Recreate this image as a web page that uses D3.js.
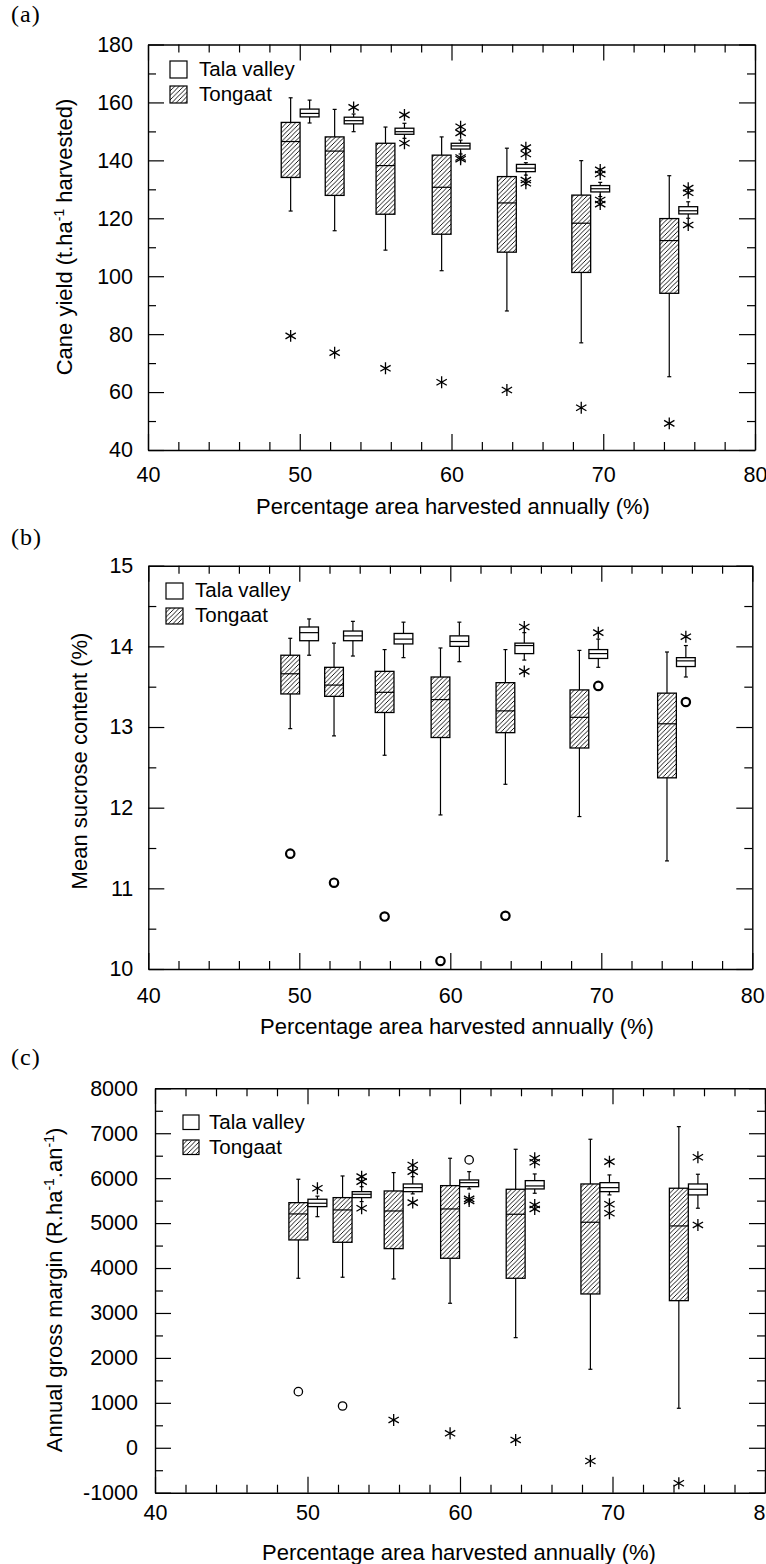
<!DOCTYPE html>
<html>
<head>
<meta charset="utf-8">
<script src="https://cdn.jsdelivr.net/npm/d3@7"></script>
<style>
  body { margin: 0; background: #fff; }
  svg text { font-family: "Liberation Sans", Arial, sans-serif; fill: #000; }
  .tick text { font-size: 21.5px; }
  svg text.panel-label { font-family: "Liberation Serif", "Times New Roman", serif; font-size: 24px; }
  .title { font-size: 22px; }
  .legend text { font-size: 20.5px; }
</style>
</head>
<body>
<svg id="chart" width="766" height="1564"></svg>
<script>
// % area harvested annually for each scenario (Tongaat box position, Tala sits just right of it)
const pctHarvested = [49.4, 52.3, 55.65, 59.35, 63.65, 68.55, 74.35];
const seriesNames = ["Tala valley", "Tongaat"];
const xTicks = [40, 50, 60, 70, 80];

// box stats per scenario: [lower whisker, q1, median, q3, upper whisker]
// outliers per scenario: [value, mark]  mark "*" = extreme, "o" = outlier

// (a) cane yield, t/ha harvested
const yieldTongaat = [
  [122.5, 134.1, 146.5, 153.1, 161.6],
  [115.7, 127.9, 143.2, 148.1, 157.6],
  [109.0, 121.4, 138.2, 145.9, 151.5],
  [101.9, 114.5, 130.7, 141.8, 148.1],
  [88.0, 108.3, 125.3, 134.4, 144.2],
  [77.0, 101.3, 118.3, 128.0, 139.9],
  [65.3, 94.1, 112.3, 119.9, 134.7]
];
const yieldTongaatOut = [
  [[79.4, "*"]], [[73.6, "*"]], [[68.2, "*"]], [[63.4, "*"]],
  [[60.7, "*"]], [[54.6, "*"]], [[49.2, "*"]]
];
const yieldTala = [
  [152.9, 155.0, 156.2, 157.7, 160.8],
  [149.9, 152.6, 153.7, 154.9, 156.0],
  [147.6, 149.0, 149.9, 151.1, 152.8],
  [142.2, 143.9, 145.0, 145.9, 147.0],
  [134.9, 136.1, 137.3, 138.6, 139.2],
  [127.5, 129.1, 130.2, 131.3, 132.4],
  [120.0, 121.5, 122.6, 124.0, 125.7]
];
const yieldTalaOut = [
  [],
  [[158.3, "*"]],
  [[155.7, "*"], [145.9, "*"]],
  [[151.6, "*"], [149.5, "*"], [140.4, "*"], [141.0, "*"]],
  [[144.4, "*"], [142.2, "*"], [133.2, "*"], [132.1, "*"]],
  [[136.7, "*"], [135.3, "*"], [126.3, "*"], [124.9, "*"]],
  [[130.4, "*"], [128.8, "*"], [117.7, "*"]]
];
const yieldTicks = [40, 60, 80, 100, 120, 140, 160, 180];

// (b) mean sucrose content, %
const sucroseTongaat = [
  [12.98, 13.41, 13.66, 13.89, 14.10],
  [12.89, 13.38, 13.52, 13.74, 14.04],
  [12.65, 13.18, 13.43, 13.69, 13.96],
  [11.91, 12.87, 13.34, 13.62, 13.98],
  [12.29, 12.93, 13.20, 13.55, 13.96],
  [11.89, 12.74, 13.12, 13.46, 13.95],
  [11.34, 12.37, 13.04, 13.42, 13.93]
];
const sucroseTongaatOut = [
  [[11.43, "o"]], [[11.07, "o"]], [[10.65, "o"]], [[10.10, "o"]],
  [[10.66, "o"]], [], []
];
const sucroseTala = [
  [13.89, 14.07, 14.17, 14.24, 14.34],
  [13.88, 14.07, 14.13, 14.19, 14.31],
  [13.86, 14.03, 14.09, 14.16, 14.30],
  [13.81, 14.00, 14.06, 14.13, 14.30],
  [13.83, 13.91, 14.01, 14.04, 14.17],
  [13.74, 13.85, 13.91, 13.96, 14.09],
  [13.62, 13.75, 13.82, 13.86, 14.01]
];
const sucroseTalaOut = [
  [], [], [], [],
  [[14.24, "*"], [13.69, "*"]],
  [[14.17, "*"], [13.51, "o"]],
  [[14.12, "*"], [13.31, "o"]]
];
const sucroseTicks = [10, 11, 12, 13, 14, 15];

// (c) annual gross margin, R/ha/an
const marginTongaat = [
  [3772, 4625, 5204, 5455, 5976],
  [3795, 4573, 5293, 5567, 6049],
  [3757, 4432, 5270, 5715, 6124],
  [3216, 4217, 5315, 5834, 6443],
  [2451, 3772, 5197, 5753, 6643],
  [1747, 3423, 5019, 5871, 6866],
  [879, 3274, 4937, 5776, 7147]
];
const marginTongaatOut = [
  [[1249, "o"]], [[930, "o"]], [[619, "*"]], [[322, "*"]],
  [[174, "*"]], [[-294, "*"]], [[-790, "*"]]
];
const marginTala = [
  [5143, 5367, 5442, 5531, 5600],
  [5478, 5567, 5642, 5700, 5811],
  [5650, 5700, 5789, 5871, 6034],
  [5760, 5811, 5900, 5960, 6145],
  [5664, 5760, 5827, 5945, 6094],
  [5627, 5700, 5789, 5900, 6072],
  [5331, 5627, 5753, 5871, 6087]
];
const marginTalaOut = [
  [[5776, "*"]],
  [[6034, "*"], [5923, "*"], [5331, "*"]],
  [[6294, "*"], [6145, "*"], [5455, "*"]],
  [[6406, "o"], [5540, "*"], [5493, "*"]],
  [[6443, "*"], [6354, "*"], [5404, "*"], [5315, "*"]],
  [[6368, "*"], [5419, "*"], [5219, "*"]],
  [[6466, "*"], [4959, "*"]]
];
const marginTicks = [-1000, 0, 1000, 2000, 3000, 4000, 5000, 6000, 7000, 8000];

const xTitle = "Percentage area harvested annually (%)";

const svg = d3.select("#chart");

// hatch for Tongaat boxes
svg.append("defs").append("pattern")
    .attr("id", "hatch")
    .attr("patternUnits", "userSpaceOnUse")
    .attr("width", 4.5).attr("height", 4.5)
  .append("path")
    .attr("d", "M-1,1 l2,-2 M0,4.5 l4.5,-4.5 M3.5,5.5 l2,-2")
    .attr("stroke", "#000")
    .attr("stroke-width", 0.9);

const panels = [
  {
    label: "(a)", labelY: 22,
    left: 148, right: 755, top: 44.5, bottom: 450,
    yDomain: [40, 180], yTicks: yieldTicks, yMinorStep: 10, xPad: 17, yPad: 15,
    yTitle: [["Cane yield (t.ha", 0], ["-1", 1], [" harvested)", 0]],
    yTitleX: 72, yTitleY: 237, xTitleX: 453, xTitleY: 514,
    legend: { x: 170, y: 61, w: 17, h: 17, step: 25, textX: 199, base: 15 },
    tongaat: yieldTongaat, tongaatOut: yieldTongaatOut,
    tala: yieldTala, talaOut: yieldTalaOut, circleW: 2
  },
  {
    label: "(b)", labelY: 545,
    left: 148.3, right: 752.3, top: 565.7, bottom: 969,
    yDomain: [10, 15], yTicks: sucroseTicks, yMinorStep: 0.5, xPad: 19, yPad: 15,
    yTitle: [["Mean sucrose content (%)", 0]],
    yTitleX: 87, yTitleY: 761, xTitleX: 457, xTitleY: 1034,
    legend: { x: 166, y: 583, w: 17, h: 16, step: 25, textX: 195, base: 14 },
    tongaat: sucroseTongaat, tongaatOut: sucroseTongaatOut,
    tala: sucroseTala, talaOut: sucroseTalaOut, circleW: 2.2
  },
  {
    label: "(c)", labelY: 1065,
    left: 155, right: 765, top: 1088.3, bottom: 1492.7,
    yDomain: [-1000, 8000], yTicks: marginTicks, yMinorStep: 500, xPad: 12, yPad: 17,
    yTitle: [["Annual gross margin (R.ha", 0], ["-1", 1], [".an", 0], ["-1", 1], [")", 0]],
    yTitleX: 62, yTitleY: 1290, xTitleX: 459, xTitleY: 1560,
    legend: { x: 183, y: 1115, w: 16, h: 14.5, step: 25, textX: 209, base: 13.5 },
    tongaat: marginTongaat, tongaatOut: marginTongaatOut,
    tala: marginTala, talaOut: marginTalaOut, circleW: 1.3
  }
];

const halfBox = 0.62;   // half box width, x units
const talaShift = 1.25; // Tala box sits this far right of Tongaat

function drawPanel(p) {
  const g = svg.append("g");
  const x = d3.scaleLinear().domain([40, 80]).range([p.left, p.right]);
  const y = d3.scaleLinear().domain(p.yDomain).range([p.bottom, p.top]);

  const xMinor = d3.range(42, 80, 2).filter(v => v % 10 !== 0);
  const yMinor = p.yTicks.slice(0, -1).map(v => v + p.yMinorStep);

  const noDomain = s => s.select(".domain").remove();

  // bottom axis with labels
  g.append("g")
      .attr("transform", `translate(0,${p.bottom})`)
      .call(d3.axisBottom(x).tickValues(xTicks).tickSize(-16).tickSizeOuter(0)
        .tickPadding(p.xPad).tickFormat(d => String(d)));
  g.append("g")
      .attr("transform", `translate(0,${p.bottom})`)
      .call(d3.axisBottom(x).tickValues(xMinor).tickSize(-8).tickFormat(""))
      .call(noDomain);
  // top axis
  g.append("g")
      .attr("transform", `translate(0,${p.top})`)
      .call(d3.axisTop(x).tickValues(xTicks).tickSize(-16).tickSizeOuter(0).tickFormat(""));
  g.append("g")
      .attr("transform", `translate(0,${p.top})`)
      .call(d3.axisTop(x).tickValues(xMinor).tickSize(-8).tickFormat(""))
      .call(noDomain);
  // left axis with labels
  g.append("g")
      .attr("transform", `translate(${p.left},0)`)
      .call(d3.axisLeft(y).tickValues(p.yTicks).tickSize(-16).tickSizeOuter(0)
        .tickPadding(p.yPad).tickFormat(d => String(d)));
  g.append("g")
      .attr("transform", `translate(${p.left},0)`)
      .call(d3.axisLeft(y).tickValues(yMinor).tickSize(-8).tickFormat(""))
      .call(noDomain);
  // right axis
  g.append("g")
      .attr("transform", `translate(${p.right},0)`)
      .call(d3.axisRight(y).tickValues(p.yTicks).tickSize(-16).tickSizeOuter(0).tickFormat(""));
  g.append("g")
      .attr("transform", `translate(${p.right},0)`)
      .call(d3.axisRight(y).tickValues(yMinor).tickSize(-8).tickFormat(""))
      .call(noDomain);

  g.selectAll(".domain").attr("stroke", "#000").attr("stroke-width", 1.4);
  g.selectAll(".tick line").attr("stroke", "#000").attr("stroke-width", 1.2);

  // titles
  g.append("text")
      .attr("class", "panel-label")
      .attr("x", 11).attr("y", p.labelY)
      .style("letter-spacing", "1px")
      .text(p.label);

  g.append("text")
      .attr("class", "title")
      .attr("x", p.xTitleX).attr("y", p.xTitleY)
      .attr("text-anchor", "middle")
      .text(xTitle);

  const yt = g.append("text")
      .attr("class", "title")
      .attr("transform", `translate(${p.yTitleX},${p.yTitleY}) rotate(-90)`)
      .attr("text-anchor", "middle");
  let raised = false;
  p.yTitle.forEach(([txt, sup]) => {
    const t = yt.append("tspan").text(txt);
    if (sup) {
      t.style("font-size", "14px").attr("dy", raised ? 0 : -8);
      raised = true;
    } else {
      t.attr("dy", raised ? 8 : 0);
      raised = false;
    }
  });

  // legend
  const lg = g.append("g").attr("class", "legend");
  seriesNames.forEach((name, i) => {
    const ly = p.legend.y + i * p.legend.step;
    lg.append("rect")
        .attr("x", p.legend.x).attr("y", ly)
        .attr("width", p.legend.w).attr("height", p.legend.h)
        .attr("fill", i === 0 ? "#fff" : "url(#hatch)")
        .attr("stroke", "#000").attr("stroke-width", 1.2);
    lg.append("text")
        .attr("x", p.legend.textX).attr("y", ly + p.legend.base)
        .text(name);
  });

  const star = d3.symbol().type(d3.symbolAsterisk).size(100);

  function drawBoxes(stats, outs, shift, fill) {
    const bg = g.append("g");
    stats.forEach((s, i) => {
      const cx = pctHarvested[i] + shift;
      const px = x(cx);
      const x0 = x(cx - halfBox), x1 = x(cx + halfBox);
      const [lo, q1, med, q3, hi] = s;
      // whiskers
      bg.append("line").attr("x1", px).attr("x2", px).attr("y1", y(q3)).attr("y2", y(hi));
      bg.append("line").attr("x1", px).attr("x2", px).attr("y1", y(q1)).attr("y2", y(lo));
      bg.append("line").attr("x1", px - 2).attr("x2", px + 2).attr("y1", y(hi)).attr("y2", y(hi));
      bg.append("line").attr("x1", px - 2).attr("x2", px + 2).attr("y1", y(lo)).attr("y2", y(lo));
      bg.append("rect")
          .attr("x", x0).attr("y", y(q3))
          .attr("width", x1 - x0).attr("height", y(q1) - y(q3))
          .attr("fill", fill);
      bg.append("line").attr("x1", x0).attr("x2", x1).attr("y1", y(med)).attr("y2", y(med));

      outs[i].forEach(([v, mark]) => {
        if (mark === "o") {
          bg.append("circle")
              .attr("cx", px).attr("cy", y(v)).attr("r", 4.2)
              .attr("fill", "none").attr("stroke-width", p.circleW);
        } else {
          bg.append("path")
              .attr("d", star())
              .attr("transform", `translate(${px},${y(v)})`)
              .attr("fill", "none").attr("stroke-width", 1.3);
        }
      });
    });
    bg.selectAll("line,rect,path,circle").attr("stroke", "#000");
    bg.selectAll("line").attr("stroke-width", 1.2);
    bg.selectAll("rect").attr("stroke-width", 1.3);
  }

  drawBoxes(p.tongaat, p.tongaatOut, 0, "url(#hatch)");
  drawBoxes(p.tala, p.talaOut, talaShift, "#fff");
}

panels.forEach(drawPanel);
</script>
</body>
</html>
